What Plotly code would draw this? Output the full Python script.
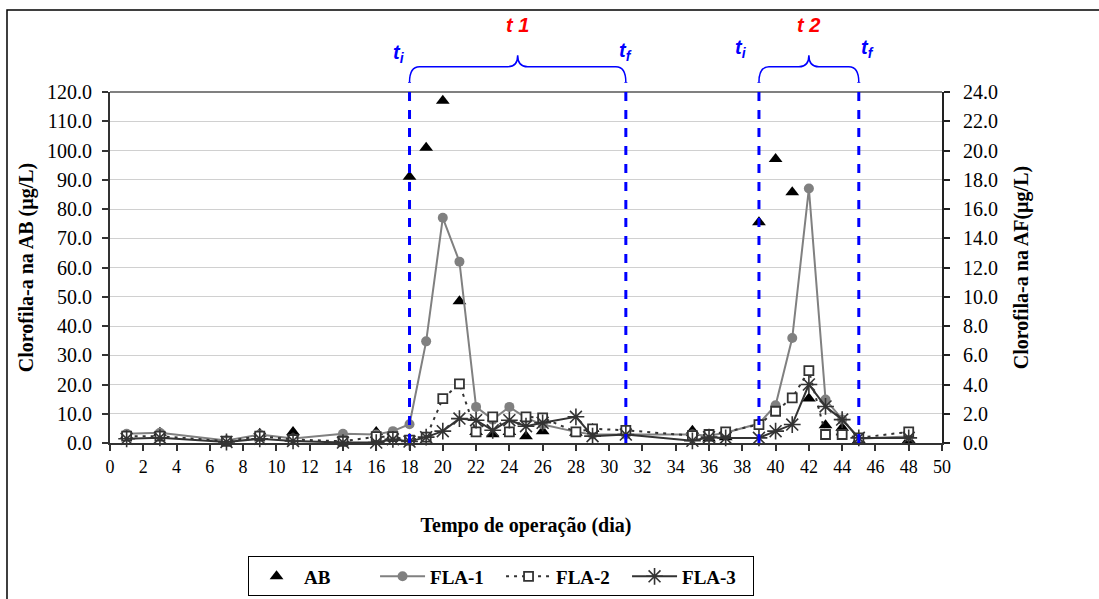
import plotly.graph_objects as go

# ---------------- data ----------------
days = [1, 3, 7, 9, 11, 14, 16, 17, 18, 19, 20, 21, 22, 23, 24, 25, 26, 28, 29, 31,
        35, 36, 37, 39, 40, 41, 42, 43, 44, 45, 48]

ab = [2.5, 3.5, 0.8, 3.2, 3.8, 1.0, 3.8, 2.5, 91.0, 100.9, 117.0, 48.5, 3.8, 3.0, 3.8, 2.3, 4.0, 3.5, 4.8, 3.5,
      4.2, 1.5, 2.0, 75.5, 97.1, 85.7, 15.2, 6.1, 5.2, 1.0, 1.0]

fla1 = [0.63, 0.70, 0.17, 0.58, 0.30, 0.63, 0.58, 0.81, 1.28, 6.95, 15.4, 12.4, 2.47, 1.6, 2.47, 1.72, 1.26, 0.76, 0.58, 0.58,
        0.58, 0.50, 0.70, 1.33, 2.58, 7.18, 17.4, 2.97, 1.60, 0.30, 0.45]

fla2 = [0.47, 0.47, 0.12, 0.47, 0.24, 0.12, 0.43, 0.43, 0.20, 0.40, 3.04, 4.04, 0.76, 1.79, 0.76, 1.79, 1.72, 0.76, 0.97, 0.87,
        0.50, 0.58, 0.76, 1.26, 2.17, 3.08, 4.95, 0.58, 0.58, 0.35, 0.76]

fla3 = [0.29, 0.36, 0.07, 0.29, 0.14, 0.03, 0.03, 0.25, 0.10, 0.40, 0.81, 1.67, 1.56, 0.87, 1.56, 1.15, 1.38, 1.79, 0.47, 0.58,
        0.15, 0.40, 0.35, 0.35, 0.81, 1.26, 4.00, 2.50, 1.60, 0.35, 0.35]

period_labels = ["t 1", "t 2"]
period_start = [18, 39]
period_end = [31, 45]

left_ticks = [0, 10, 20, 30, 40, 50, 60, 70, 80, 90, 100, 110, 120]
right_ticks = [0, 2, 4, 6, 8, 10, 12, 14, 16, 18, 20, 22, 24]
x_ticks = list(range(0, 51, 2))

SERIF = "Liberation Serif"
SANS = "Liberation Sans"

fig = go.Figure()

fig.add_trace(go.Scatter(
    x=days, y=ab, name="<b>AB</b>", mode="markers", yaxis="y",
    marker=dict(symbol="triangle-up", size=12, color="black"),
    cliponaxis=False))

fig.add_trace(go.Scatter(
    x=days, y=fla1, name="<b>FLA-1</b>", mode="lines+markers", yaxis="y2",
    line=dict(color="#808080", width=2),
    marker=dict(symbol="circle", size=10, color="#808080"),
    cliponaxis=False))

fig.add_trace(go.Scatter(
    x=days, y=fla2, name="<b>FLA-2</b>", mode="lines+markers", yaxis="y2",
    line=dict(color="#333333", width=2, dash="3px,5px"),
    marker=dict(symbol="square", size=9, color="white",
                line=dict(color="#333333", width=1.8)),
    cliponaxis=False))

fig.add_trace(go.Scatter(
    x=days, y=fla3, name="<b>FLA-3</b>", mode="lines+markers", yaxis="y2",
    line=dict(color="#333333", width=2),
    marker=dict(symbol="asterisk-open", size=14,
                line=dict(color="#333333", width=1.6)),
    cliponaxis=False))

shapes = []
annotations = []

# plot-area top border
shapes.append(dict(type="line", xref="paper", yref="paper", x0=0, x1=1, y0=1, y1=1,
                   line=dict(color="#808080", width=2), layer="below"))
# outer chart frame (left and top edges)
shapes.append(dict(type="path", xref="paper", yref="paper",
                   path="M -0.1238,-0.46 L -0.1238,1.2336 L 1.2,1.2336",
                   line=dict(color="black", width=1.5)))

y_low = 1.028
y_h = 1.072
y_tip = 1.105
r = 0.6
for lab, s, e, in zip(period_labels, period_start, period_end):
    for d in (s, e):
        shapes.append(dict(type="line", xref="x", yref="paper", x0=d, x1=d, y0=0, y1=y_low,
                           line=dict(color="#0000FF", width=3, dash="dash")))
    m = (s + e) / 2
    path = (f"M {s},{y_low} Q {s},{y_h} {s + r},{y_h} L {m - r},{y_h} "
            f"Q {m},{y_h} {m},{y_tip} Q {m},{y_h} {m + r},{y_h} "
            f"L {e - r},{y_h} Q {e},{y_h} {e},{y_low}")
    shapes.append(dict(type="path", xref="x", yref="paper", path=path,
                       line=dict(color="#0000FF", width=1.5)))
    annotations.append(dict(x=m, y=1.19, xref="x", yref="paper", text=lab, showarrow=False,
                            xanchor="center", yanchor="middle",
                            font=dict(family=SANS, size=20, color="#FF0000", weight="bold", style="italic")))

tif_font = dict(family=SANS, size=20, color="#0000FF", weight="bold", style="italic")
for x, y, txt, xs in [(period_start[0], 1.11, "t<sub>i</sub>", -11),
                      (period_end[0], 1.115, "t<sub>f</sub>", 0),
                      (period_start[1], 1.125, "t<sub>i</sub>", -18),
                      (period_end[1], 1.125, "t<sub>f</sub>", 9)]:
    annotations.append(dict(x=x, y=y, xref="x", yref="paper", text=txt, showarrow=False,
                            xanchor="center", yanchor="middle", xshift=xs, font=tif_font))

fig.update_layout(
    width=1099, height=599,
    margin=dict(l=110, r=157, t=92, b=156),
    paper_bgcolor="white", plot_bgcolor="white",
    font=dict(family=SERIF, size=20, color="black"),
    showlegend=True,
    legend=dict(orientation="h", xref="container", yref="container",
                x=0.2257, y=0.071, xanchor="left", yanchor="top",
                bordercolor="black", borderwidth=1, bgcolor="white",
                font=dict(family=SERIF, size=19, color="black"),
                itemwidth=45, entrywidth=66, tracegroupgap=0),
    xaxis=dict(range=[0, 50], tickmode="array", tickvals=x_ticks,
               ticks="outside", ticklen=6, tickcolor="#333333", tickwidth=1.5,
               showline=True, linecolor="#333333", linewidth=2,
               showgrid=False, zeroline=False,
               tickfont=dict(family=SERIF, size=18),
               title=dict(text="<b>Tempo de operação (dia)</b>", standoff=42,
                          font=dict(family=SERIF, size=20))),
    yaxis=dict(range=[0, 120], tickmode="array", tickvals=left_ticks, tickformat=".1f",
               ticks="outside", ticklen=6, tickcolor="#333333", tickwidth=1.5,
               showline=True, linecolor="#333333", linewidth=2,
               showgrid=True, gridcolor="#d0d0d0", gridwidth=1, zeroline=False,
               tickfont=dict(family=SERIF, size=20), ticklabelstandoff=6,
               title=dict(text="<b>Clorofila-a na AB (µg/L)</b>", standoff=8,
                          font=dict(family=SERIF, size=20))),
    yaxis2=dict(range=[0, 24], tickmode="array", tickvals=right_ticks, tickformat=".1f",
                overlaying="y", side="right",
                ticks="outside", ticklen=6, tickcolor="#222222", tickwidth=1.5,
                showline=True, linecolor="#222222", linewidth=2,
                showgrid=False, zeroline=False,
                tickfont=dict(family=SERIF, size=20), ticklabelstandoff=9,
                title=dict(text="<b>Clorofila-a na AF(µg/L)</b>", standoff=17,
                           font=dict(family=SERIF, size=20))),
    shapes=shapes,
    annotations=annotations,
)

fig.write_html("out.html")
